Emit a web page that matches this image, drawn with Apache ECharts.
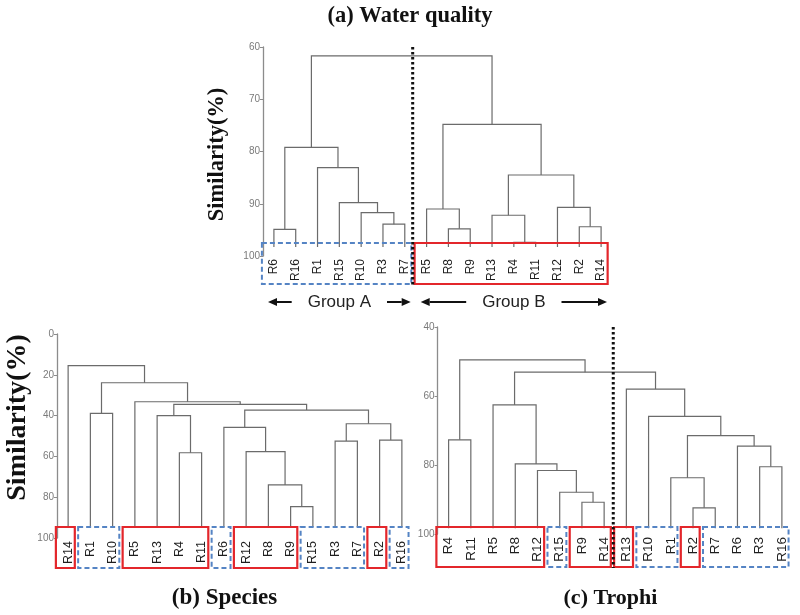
<!DOCTYPE html>
<html><head><meta charset="utf-8">
<script src="https://cdn.jsdelivr.net/npm/echarts@6/dist/echarts.min.js"></script>
<style>html,body{margin:0;padding:0;background:#fff}#c{width:800px;height:615px}</style>
</head><body><div id="c"></div>
<script>
// ---------- DATA ----------
// Panel (a) Water quality
const leavesA = ["R6","R16","R1","R15","R10","R3","R7","R5","R8","R9","R13","R4","R11","R12","R2","R14"];
// linkage rows: [childA, childB, similarity]; children 0..15 = leaves, 16+ = earlier rows
const mergesA = [
  [0,1,94.9],[5,6,93.9],[4,17,91.7],[3,18,89.8],[2,19,83.1],[16,20,79.2],
  [8,9,94.8],[7,22,91.0],[11,12,97.4],[10,24,92.2],[14,15,94.4],[13,26,90.7],
  [25,27,84.5],[23,28,74.8],[21,29,61.7]
];
const yTicksA = [60,70,80,90,100];
const leafEndA = 98.3;
const boxesA = [[0,6,"blue"],[7,15,"red"]];
const dividerA = [6];
const arrowGroupsA = [[0,6,"Group A"],[7,15,"Group B"]];

// Panel (b) Species
const leavesB = ["R14","R1","R10","R5","R13","R4","R11","R6","R12","R8","R9","R15","R3","R7","R2","R16"];
const mergesB = [
  [10,11,84.6],[9,16,74.0],[8,17,57.7],[7,18,45.8],[12,13,52.5],[14,15,52.0],
  [20,21,44.0],[19,22,37.3],[5,6,58.2],[4,24,40.0],[25,23,34.5],[3,26,33.2],
  [1,2,38.9],[28,27,23.9],[0,29,15.5]
];
const yTicksB = [0,20,40,60,80,100];
const leafEndB = 94.6;
const boxesB = [[0,0,"red"],[1,2,"blue"],[3,6,"red"],[7,7,"blue"],[8,10,"red"],[11,13,"blue"],[14,14,"red"],[15,15,"blue"]];
const dividerB = [];
const arrowGroupsB = [];

// Panel (c) Trophi
const leavesC = ["R4","R11","R5","R8","R12","R15","R9","R14","R13","R10","R1","R2","R7","R6","R3","R16"];
const mergesC = [
  [0,1,72.7],[6,7,90.8],[5,17,87.9],[4,18,81.6],[3,19,79.7],[2,20,62.6],
  [14,15,80.5],[13,22,74.5],[11,12,92.4],[10,24,83.7],[25,23,71.5],[9,26,65.9],
  [8,27,58.0],[21,28,53.1],[16,29,49.5]
];
const yTicksC = [40,60,80,100];
const leafEndC = 98.3;
const boxesC = [[0,4,"red"],[5,5,"blue"],[6,7,"red"],[8,8,"red"],[9,10,"blue"],[11,11,"red"],[12,15,"blue"]];
const dividerC = [7];
const arrowGroupsC = [];

const titles = ["(a) Water quality","(b) Species","(c) Trophi"];
const yName = "Similarity(%)";

// ---------- LAYOUT / STYLE ----------
const panels = [
  {leaves:leavesA, merges:mergesA, ticks:yTicksA, leafEnd:leafEndA, boxes:boxesA, divider:dividerA, arrows:arrowGroupsA,
   grid:{left:263, top:47, width:349, height:209}, labelSize:12, boxTop:13, boxH:41, divShift:-3},
  {leaves:leavesB, merges:mergesB, ticks:yTicksB, leafEnd:leafEndB, boxes:boxesB, divider:dividerB, arrows:arrowGroupsB,
   grid:{left:57, top:334, width:356, height:204}, labelSize:12.5, boxTop:11, boxH:41, divShift:0},
  {leaves:leavesC, merges:mergesC, ticks:yTicksC, leafEnd:leafEndC, boxes:boxesC, divider:dividerC, arrows:arrowGroupsC,
   grid:{left:437.5, top:327, width:355.5, height:207}, labelSize:13.5, boxTop:7, boxH:40, divShift:-2}
];
const LINE = '#6b6b6b', AXIS = '#8c8c8c', RED = '#e3262b', BLUE = '#5584c4';
const SERIF = '"Liberation Serif","Times New Roman",serif';

const mctx = document.createElement('canvas').getContext('2d');
function textW(t, font){ mctx.font = font; return mctx.measureText(t).width; }

function layoutTree(p){
  const xs = p.leaves.map((_, i) => i);
  const hs = p.leaves.map(() => p.leafEnd);
  p.merges.forEach(m => { xs.push((xs[m[0]] + xs[m[1]]) / 2); hs.push(m[2]); });
  return {xs, hs};
}

const grids = [], xAxes = [], yAxes = [], series = [];
panels.forEach((p, pi) => {
  const n = p.leaves.length;
  grids.push(Object.assign({outerBoundsMode:'none', containLabel:false}, p.grid));
  xAxes[pi] = {gridIndex:pi, type:'category', data:p.leaves, boundaryGap:true, position:'bottom',
    axisLine:{show:false, onZero:false}, axisTick:{show:false}, splitLine:{show:false},
    axisLabel:{rotate:90, interval:0, margin:3, fontSize:p.labelSize, color:'#1e1e1e', fontFamily:'Arial, "Liberation Sans"'}};
  xAxes[3 + pi] = {gridIndex:pi, type:'value', min:-0.5, max:n - 0.5, show:false};
  const t = p.ticks;
  yAxes.push({gridIndex:pi, type:'value', inverse:true, min:t[0], max:t[t.length - 1], interval:t[1] - t[0],
    axisLine:{show:true, onZero:false, lineStyle:{color:AXIS, width:1.3}},
    axisTick:{show:true, length:3, lineStyle:{color:AXIS}},
    axisLabel:{color:'#7a7a7a', fontSize:10, margin:3, fontFamily:'Arial, "Liberation Sans"'},
    splitLine:{show:false}});

  const {xs, hs} = layoutTree(p);
  series.push({
    type:'custom', xAxisIndex:3 + pi, yAxisIndex:pi, silent:true, clip:false,
    data:p.merges.map((m, i) => [i]),
    renderItem:(params, api) => {
      const m = p.merges[api.value(0)];
      const a = m[0], b = m[1], h = m[2];
      const pa0 = api.coord([xs[a], hs[a]]), pa1 = api.coord([xs[a], h]);
      const pb1 = api.coord([xs[b], h]), pb0 = api.coord([xs[b], hs[b]]);
      return {type:'polyline', shape:{points:[pa0, pa1, pb1, pb0]},
        style:{stroke:LINE, lineWidth:1.2, fill:null}};
    }
  });

  series.push({
    type:'custom', xAxisIndex:3 + pi, yAxisIndex:pi, silent:true, clip:false, z:5,
    data:[[0]],
    renderItem:(params, api) => {
      const t0 = api.coord([0, p.ticks[0]]);
      const tb = api.coord([0, p.ticks[p.ticks.length - 1]]);
      const step = api.coord([1, 0])[0] - api.coord([0, 0])[0];
      const bottom = tb[1];
      const top = bottom - p.boxTop, boxBottom = top + p.boxH;
      const children = [];
      p.boxes.forEach(bx => {
        const xl = api.coord([bx[0], 0])[0] - 0.55 * step;
        const xr = api.coord([bx[1], 0])[0] + 0.3 * step;
        const red = bx[2] === 'red';
        children.push({type:'rect', shape:{x:xl, y:top, width:xr - xl, height:boxBottom - top},
          style:{fill:null, stroke:red ? RED : BLUE, lineWidth:red ? 2.2 : 2, lineDash:red ? null : [5, 3]}});
      });
      p.divider.forEach(k => {
        const x = api.coord([k + 0.5, 0])[0] + p.divShift;
        children.push({type:'line', shape:{x1:x, y1:t0[1], x2:x, y2:boxBottom + 1},
          style:{stroke:'#111', lineWidth:3, lineDash:[2.5, 2.5]}});
      });
      const font = '17px Arial';
      p.arrows.forEach(g => {
        const xl = api.coord([g[0] - 0.5, 0])[0] + 5;
        const xr = api.coord([g[1] + 0.5, 0])[0] - 5;
        const cx = (xl + xr) / 2, y = bottom + 46;
        const w = textW(g[2], font);
        children.push({type:'text', style:{text:g[2], x:cx, y:y, align:'center', verticalAlign:'middle', font:font, fill:'#222'}});
        const arrowTo = (x1, x2) => {
          const dir = x2 > x1 ? 1 : -1, hl = 9;
          children.push({type:'line', shape:{x1:x1, y1:y, x2:x2 - dir * hl, y2:y}, style:{stroke:'#111', lineWidth:2}});
          children.push({type:'polygon', shape:{points:[[x2, y], [x2 - dir * hl, y - 4], [x2 - dir * hl, y + 4]]}, style:{fill:'#111'}});
        };
        arrowTo(cx - w / 2 - 16, xl);
        arrowTo(cx + w / 2 + 16, xr);
      });
      return {type:'group', children};
    }
  });
});

const graphic = [
  {type:'text', x:410, y:16, style:{text:titles[0], font:'bold 22.5px ' + SERIF, fill:'#111', align:'center', verticalAlign:'middle'}},
  {type:'text', x:224.5, y:598, style:{text:titles[1], font:'bold 23px ' + SERIF, fill:'#111', align:'center', verticalAlign:'middle'}},
  {type:'text', x:610.5, y:598, style:{text:titles[2], font:'bold 22px ' + SERIF, fill:'#111', align:'center', verticalAlign:'middle'}},
  {type:'text', x:217.5, y:154.5, rotation:Math.PI / 2, style:{text:yName, font:'bold 22.5px ' + SERIF, fill:'#111', align:'center', verticalAlign:'middle'}},
  {type:'text', x:17.5, y:417.5, rotation:Math.PI / 2, style:{text:yName, font:'bold 28px ' + SERIF, fill:'#111', align:'center', verticalAlign:'middle'}}
];

const chart = echarts.init(document.getElementById('c'));
chart.setOption({
  animation:false,
  backgroundColor:'#fff',
  grid:grids, xAxis:xAxes, yAxis:yAxes, series:series, graphic:graphic
});
</script>
</body></html>
